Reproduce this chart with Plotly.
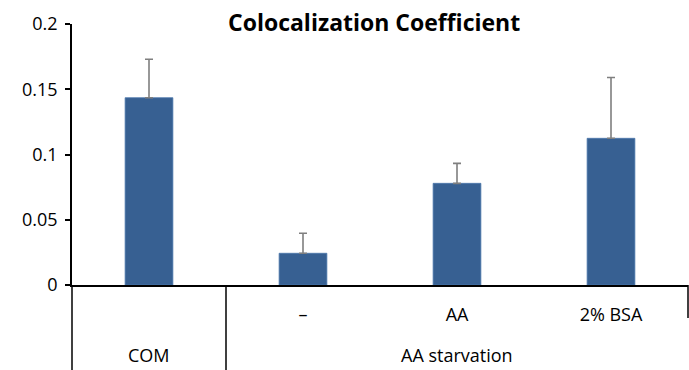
import plotly.graph_objects as go

groups = ["COM", "AA starvation", "AA starvation", "AA starvation"]
conditions = ["", "–", "AA", "2% BSA"]
values = [0.1435, 0.0243, 0.0779, 0.1124]
errors_plus = [0.0295, 0.0153, 0.0153, 0.0466]
y_ticks = [0, 0.05, 0.1, 0.15, 0.2]
y_ticktext = ["0", "0.05", "0.1", "0.15", "0.2"]

W, H = 689, 370
ML, MR, MT, MB = 72, 1, 24, 85
plot_h = H - MT - MB
n = len(values)
pos = list(range(n))

FONT = "'Open Sans', sans-serif"
LINE = "#000000"

fig = go.Figure()
fig.add_trace(go.Bar(
    x=pos, y=values, width=0.31,
    marker=dict(color="#376092", line=dict(color="#4a76ab", width=0.8)),
    error_y=dict(type="data", symmetric=False, array=errors_plus,
                 arrayminus=[0] * n, color="#7f7f7f", thickness=1.6, width=4),
))

shapes = []
shapes.append(dict(type="line", xref="paper", yref="paper", x0=0, x1=0,
                   y0=0, y1=-MB / plot_h, line=dict(color=LINE, width=1.5)))
group_bounds = []
for i in range(1, n):
    if groups[i] != groups[i - 1]:
        group_bounds.append(i)
for b in group_bounds:
    xp = b / n
    shapes.append(dict(type="line", xref="paper", yref="paper", x0=xp, x1=xp,
                       y0=0, y1=-MB / plot_h, line=dict(color=LINE, width=1.5)))
shapes.append(dict(type="line", xref="paper", yref="paper", x0=1, x1=1,
                   y0=0, y1=-33 / plot_h, line=dict(color=LINE, width=1.5)))

annotations = []
starts = [0] + group_bounds
ends = group_bounds + [n]
for s, e in zip(starts, ends):
    annotations.append(dict(x=(s + e - 1) / 2, xref="x", y=-(355 - 285) / plot_h,
                            yref="paper", text=groups[s], showarrow=False,
                            font=dict(family=FONT, size=18, color="#000"),
                            xanchor="center", yanchor="middle"))
annotations.append(dict(x=(374 - ML) / (W - ML - MR), xref="paper",
                        y=1 + (MT - 22) / plot_h, yref="paper",
                        text="<b>Colocalization Coefficient</b>", showarrow=False,
                        font=dict(family=FONT, size=23, color="#000"),
                        xanchor="center", yanchor="middle"))

fig.update_layout(
    width=W, height=H,
    margin=dict(l=ML, r=MR, t=MT, b=MB, pad=0, autoexpand=False),
    paper_bgcolor="white", plot_bgcolor="white",
    showlegend=False,
    bargap=0.69,
    shapes=shapes,
    annotations=annotations,
    xaxis=dict(range=[-0.5, n - 0.5], tickvals=pos, ticktext=conditions,
               showline=True, linecolor=LINE, linewidth=1.5, ticks="",
               showgrid=False, zeroline=False, ticklabelstandoff=13,
               tickfont=dict(family=FONT, size=18, color="#000")),
    yaxis=dict(range=[0, 0.2], tickvals=y_ticks, ticktext=y_ticktext,
               showline=True, linecolor=LINE, linewidth=1.5, ticks="outside",
               ticklen=5, tickwidth=1.5, tickcolor=LINE,
               showgrid=False, zeroline=False, ticklabelstandoff=4,
               tickfont=dict(family=FONT, size=18, color="#000")),
)

fig.write_html("out.html", config={"displayModeBar": False},
               post_script="document.body.style.margin='0';")
